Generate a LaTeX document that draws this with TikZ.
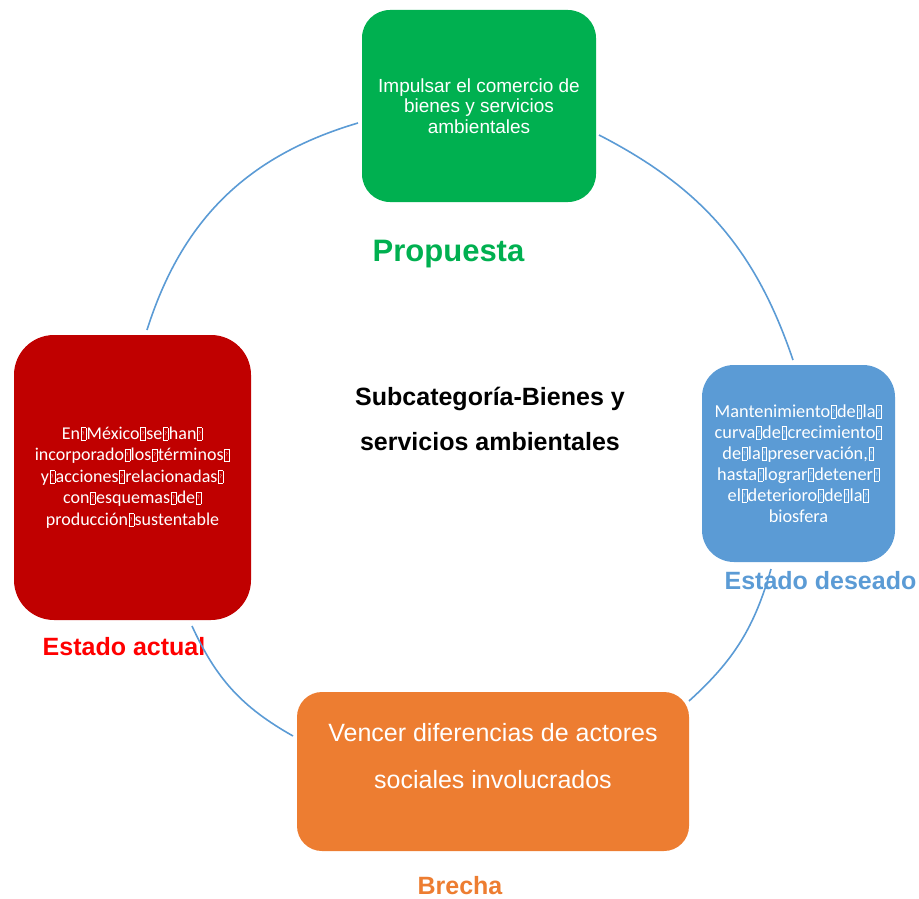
\documentclass[tikz,border=0pt]{standalone}
\usepackage{fontspec}
\setmainfont{Liberation Sans}
\newfontfamily\calibri{Carlito}
\definecolor{pgreen}{HTML}{00B050}
\definecolor{pred}{HTML}{C00000}
\definecolor{pblue}{HTML}{5B9BD5}
\definecolor{porange}{HTML}{ED7D31}
\definecolor{lred}{HTML}{FF0000}
\newcommand{\qb}{\kern0.04em\raisebox{-0.02em}{\setlength{\fboxsep}{0pt}\setlength{\fboxrule}{0.45pt}\fbox{\parbox[b][0.66em][c]{0.24em}{\centering\fontsize{5}{5}\selectfont ?}}}\kern0.04em}
\begin{document}
\begin{tikzpicture}[x=1pt,y=-1pt,
  cbox/.style={draw=none, text=white, align=center, inner sep=0pt},
  lbl/.style={anchor=base, font=\bfseries\fontsize{25}{30}\selectfont},
  arcline/.style={draw=pblue, line width=1.6pt}]
\useasboundingbox (0,0) rectangle (919,899);

% boxes
\node[cbox, fill=pgreen, rounded corners=28pt, minimum width=234pt, minimum height=192pt,
      font=\fontsize{19}{20.5}\selectfont] (prop) at (479,106)
      {Impulsar el comercio de\\bienes y servicios\\ambientales};
\node[cbox, fill=pred, rounded corners=40pt, minimum width=237pt, minimum height=285pt,
      font=\calibri\fontsize{18}{21.5}\selectfont] (actual) at (132.5,477.5)
      {En\qb México\qb se\qb han\qb\\incorporado\qb los\qb términos\qb\\y\qb acciones\qb relacionadas\qb\\con\qb esquemas\qb de\qb\\producción\qb sustentable};
\node[cbox, fill=pblue, rounded corners=32pt, minimum width=193pt, minimum height=197pt,
      font=\calibri\fontsize{18.3}{21}\selectfont] (deseado) at (798.5,463.5)
      {Mantenimiento\qb de\qb la\qb\\curva\qb de\qb crecimiento\qb\\de\qb la\qb preservación,\qb\\hasta\qb lograr\qb detener\qb\\el\qb deterioro\qb de\qb la\qb\\biosfera};
\node[cbox, fill=porange, rounded corners=25pt, minimum width=392pt, minimum height=159pt] (brecha) at (493,771.5) {};
\node[cbox, font=\fontsize{25}{47}\selectfont] (brechatext) at (493,756)
      {Vencer diferencias de actores\\sociales involucrados};

% labels
\node[lbl, text=pgreen, font=\bfseries\fontsize{31}{36}\selectfont] (lprop) at (448.5,261) {Propuesta};
\node[align=center, inner sep=0pt, font=\bfseries\fontsize{25}{45}\selectfont] (title) at (490,419)
      {Subcategoría-Bienes y\\servicios ambientales};
\node[lbl, text=pblue] (ldes) at (820.5,589) {Estado deseado};
\node[lbl, text=lred] (lact) at (124,655) {Estado actual};
\node[lbl, text=porange] (lbre) at (460,894) {Brecha};

% arcs
\coordinate (a1s) at (599,135);
\coordinate (a1e) at (793,360);
\coordinate (a2s) at (771,569);
\coordinate (a2e) at (689,701);
\coordinate (a3s) at (293,736);
\coordinate (a3e) at (192,626);
\coordinate (a4s) at (147,330);
\coordinate (a4e) at (358,123);
\draw[arcline] (a1s) to[bend left=22] (a1e);
\draw[arcline] (a2s) to[bend left=16] (a2e);
\draw[arcline] (a3s) to[bend left=18] (a3e);
\draw[arcline] (a4s) to[bend left=28] (a4e);
\end{tikzpicture}
\end{document}
